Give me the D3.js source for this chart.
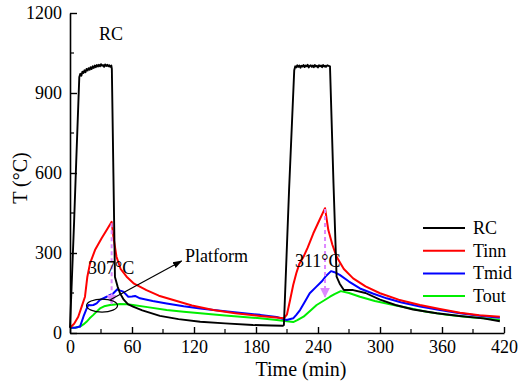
<!DOCTYPE html>
<html><head><meta charset="utf-8">
<script src="https://cdn.jsdelivr.net/npm/d3@7"></script>
<style>body{margin:0;background:#fff}svg{display:block}</style>
</head><body><svg id="c" width="521" height="383"></svg>
<script>
// ---- data (time in min, temperature in °C) ----
const rcT = [0,2,4,6,9,10,11,12,13,14,15,16,17,18,19,20,21,22,23,24,25,26,27,28,29,30,31,32,33,34,35,36,37,38,39,40,40.5,42,43.5,46,48.4,52,56,61,70,87,105,126,150,177,195,206,
  207,212,217,218,219,220,221,222,223,224,225,226,227,228,229,230,231,232,233,234,235,236,237,238,239,240,241,242,243,244,245,246,247,247.7,249,251.6,255,258,261,265,274,286,300,315,332,355,377,400,416];
const rcV = [20,220,420,640,960,972,965,980,975,985,978,990,984,993,987,997,990,1000,994,1003,997,1005,999,1006,1000,1008,1002,1005,998,1007,1001,1006,1000,1004,998,1003,990,600,210,175,149,125,108,99,85,64,52,42,36,30,28,27,
  30,536,985,1000,996,1004,998,1003,995,1002,999,1005,997,1003,1000,1006,996,1002,1004,998,1003,997,1005,999,1002,996,1004,1000,1003,997,1005,999,1002,998,1004,1000,560,211,185,161,161,150,125,105,88,74,64,55,44,36,33,30];
const tinnT = [0,4,8,11.3,14.5,16.8,19.4,24.2,30.6,35.5,40.3,42,45,49,54.8,62,74,86,100,118,138.7,160,184,207,210,213,216,219,222,226,230,235.5,241,246.8,250,254,258,265,274,286,300,318,338.7,358,377.4,396,416];
const tinnV = [20,35,61,99,136,211,261,311,355,386,417,361,286,240,211,185,161,140,124,103,86,74,64,55,70,124,180,224,260,286,320,374,420,468,386,330,286,240,205,175,149,125,105,90,76,67,61];
const tmidT = [0,5,9.7,13,15.5,17.7,20,22.6,25.8,29,35.5,42,45.8,48,51.6,56.4,60,63,67.7,80,93.5,110,126,150,184,200,209.7,216,219,222.6,227,232,238,243.5,248,252.6,256,261,270,280.6,293,306.5,320,338.7,358,377.4,396,416];
const tmidV = [20,20,24,61,86,105,104,105,111,124,136,149,164,160,155,136,137,139,130,120,111,100,92,82,68,60,49,55,68,86,115,149,172,193,215,232,228,218,193,167,148,130,115,99,86,74,65,57];
const toutT = [0,5,9.7,13,16,19,22.6,26,29,33,38.7,48.4,55,61,75,93.5,110,126,150,184,200,216,220,226,232,238.7,245,251.6,256,262,270,280.6,295,313,330,345,365,385,400,416];
const toutV = [20,20,24,32,42,55,68,81,92,100,105,109,108,105,97,86,80,74,66,55,49,41,48,61,82,105,120,136,146,157,150,136,120,105,92,80,68,60,55,49];

const series = [
  {name:"RC",   t:rcT,   v:rcV,   color:"#000000", w:1.9},
  {name:"Tinn", t:tinnT, v:tinnV, color:"#ff0000", w:2},
  {name:"Tmid", t:tmidT, v:tmidV, color:"#0000ff", w:2},
  {name:"Tout", t:toutT, v:toutV, color:"#00ee00", w:2}
];
const xTicks = [0,60,120,180,240,300,360,420];
const yTicks = [0,300,600,900,1200];
const xMinor = [30,90,150,210,270,330,390];
const yMinor = [150,450,750,1050];
// annotations: [time, top temperature, bottom temperature, label]
const drops = [[40.3,412,110,"307°C"],[246.8,465,136,"311°C"]];

// ---- drawing ----
const FONT = "Liberation Serif";
const svg = d3.select("#c");
const x = d3.scaleLinear().domain([0,420]).range([70,504]);
const y = d3.scaleLinear().domain([0,1200]).range([333,13]);

const defs = svg.append("defs");
defs.append("marker").attr("id","arrK").attr("viewBox","0 0 10 10").attr("refX",9).attr("refY",5)
  .attr("markerWidth",8).attr("markerHeight",8).attr("orient","auto")
  .append("path").attr("d","M0,1.5 L10,5 L0,8.5 z").attr("fill","#000");
defs.append("marker").attr("id","arrM").attr("viewBox","0 0 10 10").attr("refX",9).attr("refY",5)
  .attr("markerWidth",5).attr("markerHeight",5).attr("orient","auto")
  .append("path").attr("d","M0,0 L10,5 L0,10 z").attr("fill","#dd88ff");

const line = d3.line().x(d=>x(d[0])).y(d=>y(d[1]));
[series[3],series[2],series[1],series[0]].forEach(s=>{
  svg.append("path").datum(s.t.map((t,i)=>[t,s.v[i]]))
    .attr("d",line).attr("fill","none").attr("stroke",s.color)
    .attr("stroke-width",s.w).attr("stroke-linejoin","round");
});

// axes
const fs = 18;
const xAxis = svg.append("g").attr("transform","translate(0,333)")
  .call(d3.axisBottom(x).tickValues(xTicks).tickFormat(d3.format("d")).tickSizeInner(-6).tickSizeOuter(0).tickPadding(7));
const yAxis = svg.append("g").attr("transform","translate(70,0)")
  .call(d3.axisLeft(y).tickValues(yTicks).tickFormat(d3.format("d")).tickSizeInner(-7).tickSizeOuter(0).tickPadding(8));
[xAxis,yAxis].forEach(g=>{
  g.attr("font-family",FONT);
  g.select(".domain").attr("stroke","#000").attr("stroke-width",1.6);
  g.selectAll(".tick line").attr("stroke","#000").attr("stroke-width",1.4);
  g.selectAll("text").attr("font-family",FONT).attr("font-size",fs).attr("fill","#000");
});
xAxis.selectAll("text").attr("dy","0.7em");
svg.append("g").selectAll("line").data(xMinor).join("line")
  .attr("x1",d=>x(d)).attr("x2",d=>x(d)).attr("y1",333).attr("y2",329).attr("stroke","#000").attr("stroke-width",1.2);
svg.append("g").selectAll("line").data(yMinor).join("line")
  .attr("x1",70).attr("x2",74).attr("y1",d=>y(d)).attr("y2",d=>y(d)).attr("stroke","#000").attr("stroke-width",1.2);

// axis titles
svg.append("text").attr("x",301).attr("y",376).attr("text-anchor","middle")
  .attr("font-family",FONT).attr("font-size",20).text("Time (min)");
svg.append("text").attr("transform","translate(27,178) rotate(-90)").attr("text-anchor","middle")
  .attr("font-family",FONT).attr("font-size",20).text("T (°C)");

// RC label at top
svg.append("text").attr("x",99).attr("y",40).attr("font-family",FONT).attr("font-size",fs).text("RC");

// drop annotations
drops.forEach(d=>{
  svg.append("line").attr("x1",x(d[0])).attr("x2",x(d[0])).attr("y1",y(d[1])).attr("y2",y(d[2]))
    .attr("stroke","#dd88ff").attr("stroke-width",2).attr("stroke-dasharray","4,3")
    .attr("marker-end","url(#arrM)");
});
svg.append("text").attr("x",88).attr("y",274).attr("font-family",FONT).attr("font-size",fs).text(drops[0][3]);
svg.append("text").attr("x",295).attr("y",267).attr("font-family",FONT).attr("font-size",fs).text(drops[1][3]);

// platform ellipse and arrow
svg.append("ellipse").attr("cx",x(31)).attr("cy",y(103)).attr("rx",15.5).attr("ry",6.5)
  .attr("fill","none").attr("stroke","#000").attr("stroke-width",1.2);
svg.append("line").attr("x1",x(39)).attr("y1",y(125)).attr("x2",x(108)).attr("y2",y(270))
  .attr("stroke","#000").attr("stroke-width",1.2).attr("marker-end","url(#arrK)");
svg.append("text").attr("x",185).attr("y",262).attr("font-family",FONT).attr("font-size",fs).text("Platform");

// legend
const lg = svg.append("g");
series.forEach((s,i)=>{
  const yy = 228 + i*22.7;
  lg.append("line").attr("x1",423).attr("x2",465).attr("y1",yy).attr("y2",yy)
    .attr("stroke",s.color).attr("stroke-width",2);
  lg.append("text").attr("x",473).attr("y",yy+6).attr("font-family",FONT).attr("font-size",fs).text(s.name);
});
</script></body></html>
